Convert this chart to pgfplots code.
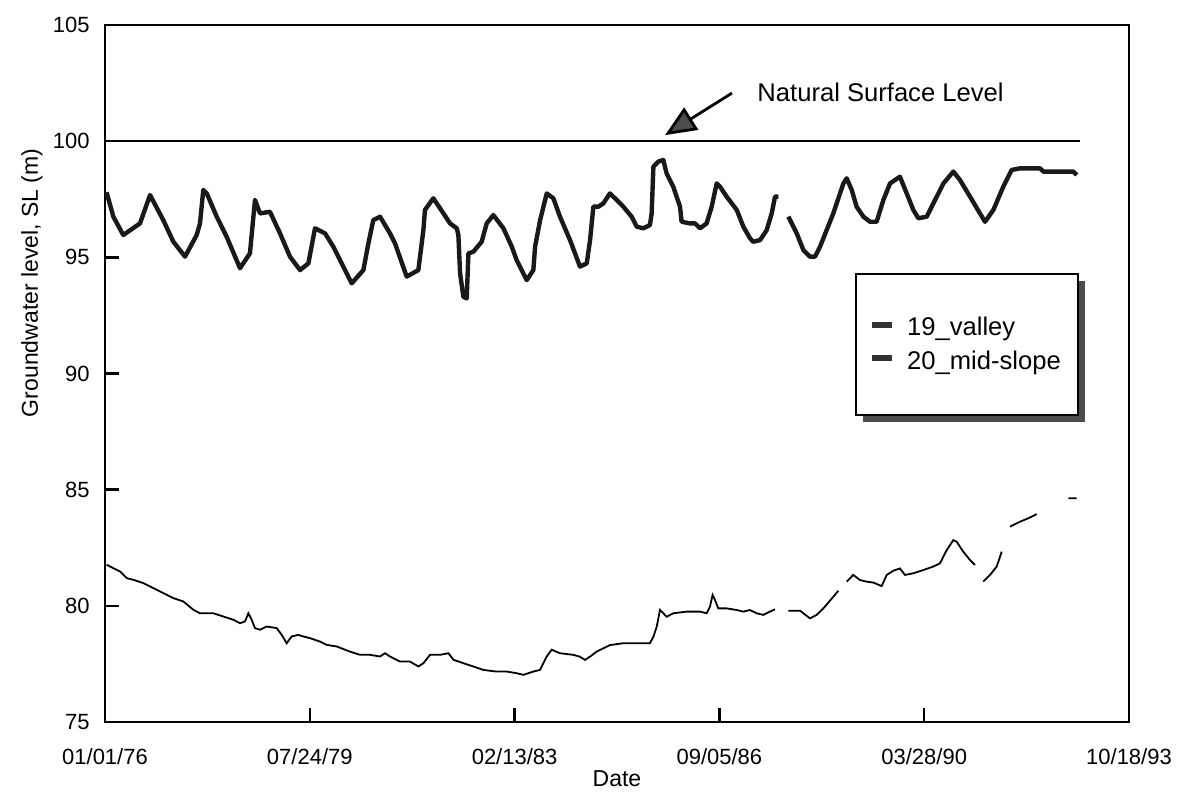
\documentclass[border=0pt]{standalone}
\usepackage{fontspec}
\setmainfont{Liberation Sans}
\usepackage{pgfplots}
\pgfplotsset{compat=1.18}
\usetikzlibrary{arrows.meta,shadows}
% keep the legend's shadow off the sample lines inside it
\makeatletter
\tikzset{no preactions/.code={\let\tikz@preactions\pgfutil@empty}}
\makeatother

\begin{document}
\begin{tikzpicture}
\begin{axis}[
  name=ax,
  scale only axis,
  width=512pt, height=348.5pt,
  xmin=0, xmax=6500, ymin=75, ymax=105,
  xtick={0,1300,2600,3900,5200,6500},
  xticklabels={01/01/76,07/24/79,02/13/83,09/05/86,03/28/90,10/18/93},
  ytick={75,80,...,105},
  tick align=inside,
  xtick pos=left, ytick pos=left,
  major tick length=7pt,
  axis line style={line width=1.3pt},
  tick style={line width=1.2pt, black},
  /pgf/number format/assume math mode=true,
  tick label style={font=\fontsize{11pt}{13pt}\selectfont},
  xticklabel style={anchor=north, inner sep=0pt, yshift=-13pt},
  yticklabel style={anchor=east, inner sep=0pt, xshift=-7.5pt},
  xlabel={Date},
  ylabel={Groundwater level, SL (m)},
  label style={font=\fontsize{11.5pt}{13pt}\selectfont},
  xlabel style={at={(axis description cs:0.5,0)}, anchor=north, inner sep=0pt, yshift=-24pt},
  ylabel style={at={([xshift=-36.5pt]axis description cs:0,0.63)}, anchor=center, inner sep=0pt},
  unbounded coords=jump,
  clip=false,
  legend style={
    at={(0.951,0.644)}, anchor=north east,
    draw=black, line width=1pt, fill=white,
    inner xsep=6.5pt, inner ysep=19.5pt,
    row sep=2pt,
    font=\fontsize{12.8pt}{15pt}\selectfont,
    cells={anchor=west},
    general shadow={fill=black!70, shadow xshift=3.5pt, shadow yshift=-3.5pt},
    /tikz/every odd column/.append style={column sep=4pt},
  },
  legend image code/.code={\draw[no preactions, line width=3pt, black!80] (0pt,1.5pt) -- (10pt,1.5pt);},
]

% well 19, valley floor
\addplot[line width=2.2pt, black!90, line join=round] coordinates {
(10,97.8) (53,96.75) (116,95.96) (222,96.46) (286,97.68) (370,96.60) (434,95.67)
(508,95.03) (582,95.96) (603,96.46) (624,97.90) (646,97.75) (709,96.75) (772,95.89)
(857,94.53) (920,95.17) (952,97.47) (984,96.89) (1047,96.96) (1111,96.03) (1174,95.03)
(1238,94.45) (1291,94.74) (1333,96.25) (1397,96.03) (1449,95.46) (1492,94.88) (1566,93.88)
(1640,94.45) (1672,95.60) (1703,96.60) (1746,96.75) (1809,96.03) (1841,95.60) (1915,94.17)
(1989,94.45) (2021,96.17) (2031,97.04) (2084,97.54) (2127,97.11) (2190,96.46) (2233,96.25)
(2243,95.96) (2254,94.31) (2275,93.30) (2296,93.23) (2307,95.17) (2338,95.24) (2391,95.67)
(2423,96.46) (2465,96.82) (2529,96.25) (2582,95.46) (2613,94.88) (2677,94.02) (2719,94.45)
(2730,95.46) (2762,96.60) (2804,97.75) (2846,97.54) (2888,96.75) (2952,95.74) (3015,94.60)
(3058,94.74) (3079,95.74) (3100,97.18) (3132,97.18) (3163,97.32) (3205,97.75) (3248,97.47)
(3290,97.18) (3343,96.75) (3375,96.32) (3417,96.25) (3459,96.39) (3470,96.89) (3481,98.90)
(3512,99.12) (3544,99.19) (3565,98.61) (3607,98.04) (3650,97.18) (3660,96.53) (3713,96.46)
(3745,96.46) (3777,96.25) (3819,96.46) (3851,97.18) (3883,98.18) (3904,98.04) (3946,97.61)
(4010,97.04) (4052,96.32) (4094,95.82) (4115,95.67) (4158,95.74) (4200,96.17) (4232,96.89)
(4253,97.61) (4274,97.61) (4300,nan) (4338,96.75) (4391,96.03) (4433,95.31) (4475,95.03)
(4507,95.03) (4539,95.46) (4623,96.89) (4687,98.18) (4708,98.40) (4740,97.90) (4771,97.18)
(4814,96.75) (4856,96.53) (4898,96.53) (4941,97.47) (4983,98.18) (5046,98.47) (5089,97.75)
(5131,97.04) (5163,96.68) (5216,96.75) (5258,97.32) (5322,98.18) (5385,98.69) (5427,98.33)
(5491,97.61) (5554,96.89) (5586,96.53) (5639,97.04) (5702,98.04) (5755,98.76) (5808,98.83)
(5935,98.83) (5956,98.69) (6147,98.69) (6168,98.54)
};
\addlegendentry{19\_valley}

% well 20, mid-slope
\addplot[line width=0.9pt, black] coordinates {
(10,81.77) (53,81.62) (95,81.48) (138,81.19) (180,81.12) (243,80.98) (307,80.76)
(370,80.55) (434,80.33) (497,80.19) (561,79.83) (603,79.68) (688,79.68) (751,79.54)
(815,79.40) (857,79.25) (889,79.33) (910,79.68) (931,79.40) (952,79.04) (984,78.97)
(1026,79.11) (1090,79.04) (1122,78.75) (1153,78.39) (1185,78.68) (1227,78.75) (1259,78.68)
(1301,78.61) (1365,78.46) (1407,78.32) (1471,78.25) (1555,78.03) (1619,77.89) (1682,77.89)
(1746,77.82) (1777,77.96) (1809,77.82) (1873,77.60) (1936,77.60) (1989,77.39) (2021,77.53)
(2063,77.89) (2127,77.89) (2180,77.96) (2211,77.68) (2275,77.53) (2338,77.39) (2402,77.24)
(2486,77.17) (2550,77.17) (2613,77.10) (2656,77.03) (2719,77.17) (2761,77.24) (2804,77.82)
(2835,78.11) (2888,77.96) (2973,77.89) (3015,77.81) (3047,77.67) (3078,77.81) (3121,78.03)
(3163,78.17) (3205,78.31) (3290,78.39) (3375,78.39) (3459,78.39) (3481,78.67) (3502,79.10)
(3523,79.82) (3544,79.68) (3565,79.53) (3607,79.68) (3692,79.75) (3777,79.75) (3819,79.68)
(3840,79.96) (3857,80.47) (3872,80.25) (3893,79.89) (3946,79.89) (4010,79.82) (4052,79.75)
(4094,79.82) (4136,79.68) (4179,79.61) (4221,79.75) (4253,79.85) (4300,nan) (4338,79.79)
(4412,79.79) (4475,79.46) (4517,79.61) (4560,79.89) (4623,80.39) (4655,80.65) (4680,nan)
(4708,81.04) (4750,81.33) (4792,81.11) (4835,81.04) (4877,81.00) (4930,80.85) (4962,81.33)
(5004,81.51) (5046,81.61) (5078,81.33) (5131,81.40) (5194,81.54) (5258,81.69) (5300,81.83)
(5343,82.40) (5385,82.83) (5406,82.76) (5448,82.33) (5491,81.97) (5522,81.76) (5550,nan)
(5575,81.04) (5618,81.33) (5660,81.69) (5692,82.33) (5720,nan) (5745,83.41) (5808,83.62)
(5861,83.77) (5914,83.95) (6000,nan) (6115,84.63) (6168,84.63)
};
\addlegendentry{20\_mid-slope}

% natural surface level
\addplot[line width=1pt, black, forget plot] coordinates {(0,100) (6190,100)};

\draw[line width=1.4pt, -{Triangle[length=15.5pt, width=13pt, fill=black!70]}]
  (axis cs:3980,102.07) -- (axis cs:3555,100.26);
\node[anchor=west, inner sep=0pt, font=\fontsize{12.8pt}{15pt}\selectfont]
  at (axis cs:4139,102.12) {Natural Surface Level};
\end{axis}
\pgfresetboundingbox
\path[use as bounding box] (ax.south west) ++(-52.5pt,-42.5pt) rectangle ++(589pt,403.5pt);
\end{tikzpicture}
\end{document}
